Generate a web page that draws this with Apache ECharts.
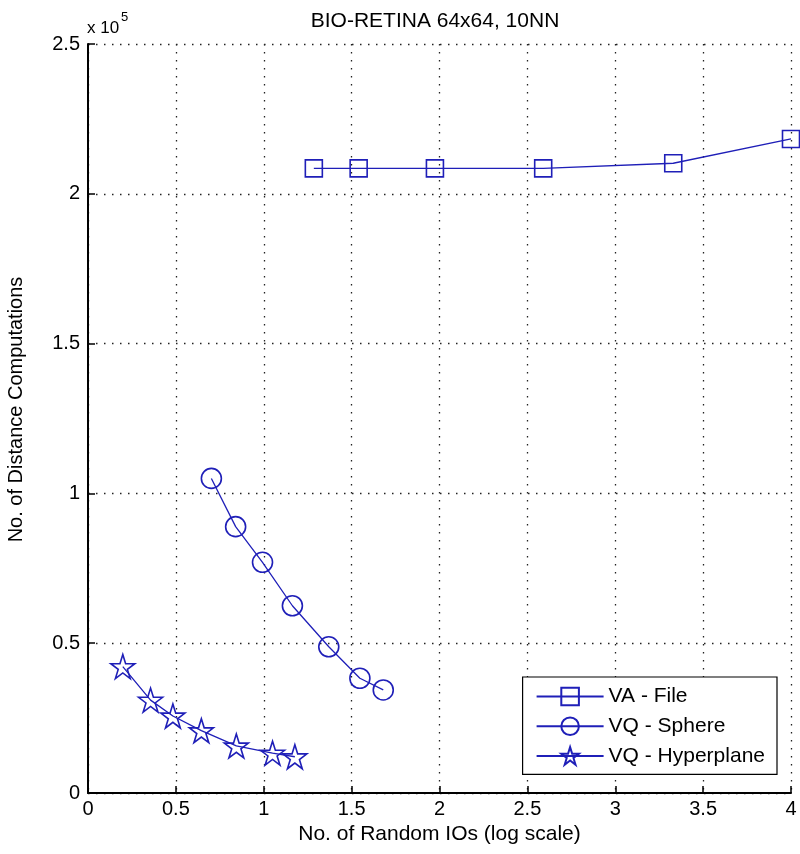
<!DOCTYPE html>
<html>
<head>
<meta charset="utf-8">
<script src="https://cdn.jsdelivr.net/npm/echarts@6/dist/echarts.min.js"></script>
<style>
  html, body { margin: 0; padding: 0; background: #fff; }
  #chart { width: 800px; height: 854px; }
</style>
</head>
<body>
<div id="chart"></div>
<script>
// ---- Data ----
const seriesNames = ['VA - File', 'VQ - Sphere', 'VQ - Hyperplane'];

const vaFileX = [1.285, 1.54, 1.974, 2.59, 3.33, 4.0];
const vaFileY = [208500, 208500, 208500, 208500, 210200, 218300];

const vqSphereX = [0.702, 0.84, 0.993, 1.163, 1.37, 1.547, 1.68];
const vqSphereY = [105000, 88900, 77000, 62500, 48800, 38300, 34400];

const vqHyperX = [0.198, 0.356, 0.483, 0.645, 0.844, 1.05, 1.177];
const vqHyperY = [42200, 31000, 25700, 20800, 15700, 13300, 12100];

const xTicks = [0, 0.5, 1, 1.5, 2, 2.5, 3, 3.5, 4];
const yTicks = [0, 50000, 100000, 150000, 200000, 250000];

const titleText = 'BIO-RETINA 64x64, 10NN';
const xName = 'No. of Random IOs (log scale)';
const yName = 'No. of Distance Computations';

// ---- Styling ----
const BLUE = '#1f1fb8';
const FONT = 'Liberation Sans, Arial, sans-serif';

function starPath() {
  const pts = [];
  for (let i = 0; i < 10; i++) {
    const a = -Math.PI / 2 + i * Math.PI / 5;
    const r = i % 2 === 0 ? 10 : 3.82;
    pts.push((r * Math.cos(a)).toFixed(3) + ',' + (r * Math.sin(a)).toFixed(3));
  }
  return 'path://M' + pts.join(' L') + ' Z';
}

function pairs(xs, ys) { return xs.map((x, i) => [x, ys[i]]); }

function mkSeries(name, xs, ys, symbol, size) {
  return {
    name: name,
    type: 'line',
    data: pairs(xs, ys),
    symbol: symbol,
    symbolSize: size,
    showSymbol: true,
    lineStyle: { color: BLUE, width: 1.3 },
    itemStyle: { color: 'rgba(0,0,0,0)', borderColor: BLUE, borderWidth: 1.6 },
    emphasis: { disabled: true },
    z: 3
  };
}

const chart = echarts.init(document.getElementById('chart'), null, { renderer: 'canvas' });

const option = {
  animation: false,
  backgroundColor: '#ffffff',
  textStyle: { fontFamily: FONT },
  grid: { left: 88, right: 9, top: 44, bottom: 61, containLabel: false, outerBoundsMode: 'none' },
  xAxis: {
    type: 'value',
    min: xTicks[0],
    max: xTicks[xTicks.length - 1],
    interval: xTicks[1] - xTicks[0],
    name: xName,
    nameLocation: 'middle',
    nameGap: 30,
    nameTextStyle: { color: '#000', fontSize: 21, fontFamily: FONT },
    axisLine: { show: true, onZero: false, lineStyle: { color: '#000', width: 2 } },
    axisTick: { show: true, inside: true, length: 7, lineStyle: { color: '#000', width: 1.5 } },
    axisLabel: { color: '#000', fontSize: 20, margin: 6, fontFamily: FONT,
      formatter: v => String(v) },
    splitLine: { show: true, lineStyle: { color: '#222', width: 1.3, type: [1.5, 6.5] } }
  },
  yAxis: {
    type: 'value',
    min: yTicks[0],
    max: yTicks[yTicks.length - 1],
    interval: yTicks[1] - yTicks[0],
    name: yName,
    nameLocation: 'middle',
    nameGap: 62,
    nameTextStyle: { color: '#000', fontSize: 20, fontFamily: FONT, padding: [0, 0, 0, 18] },
    axisLine: { show: true, onZero: false, lineStyle: { color: '#000', width: 2 } },
    axisTick: { show: true, inside: true, length: 7, lineStyle: { color: '#000', width: 1.5 } },
    axisLabel: { color: '#000', fontSize: 20, margin: 8, fontFamily: FONT,
      formatter: v => String(v / 100000) },
    splitLine: { show: true, lineStyle: { color: '#222', width: 1.3, type: [1.5, 6.5] } }
  },
  legend: {
    data: seriesNames,
    orient: 'vertical',
    right: 23,
    top: 677,
    itemWidth: 67,
    itemHeight: 22,
    itemGap: 8.7,
    padding: [9, 12, 8, 13],
    backgroundColor: '#fff',
    borderColor: '#000',
    borderWidth: 1.2,
    borderRadius: 0,
    textStyle: { color: '#000', fontSize: 21, fontFamily: FONT },
    selectedMode: false
  },
  graphic: [
    { type: 'text', x: 435, y: 21, z: 10,
      style: { text: titleText, fill: '#000', font: '21px ' + FONT, textAlign: 'center', textVerticalAlign: 'middle' } },
    { type: 'text', x: 87, y: 28, z: 10,
      style: { text: 'x 10', fill: '#000', font: '17px ' + FONT, textAlign: 'left', textVerticalAlign: 'middle' } },
    { type: 'text', x: 121, y: 17, z: 10,
      style: { text: '5', fill: '#000', font: '13px ' + FONT, textAlign: 'left', textVerticalAlign: 'middle' } }
  ],
  series: [
    mkSeries(seriesNames[0], vaFileX, vaFileY, 'rect', 17),
    mkSeries(seriesNames[1], vqSphereX, vqSphereY, 'circle', 20),
    mkSeries(seriesNames[2], vqHyperX, vqHyperY, starPath(), 24)
  ]
};

chart.setOption(option);
</script>
</body>
</html>
